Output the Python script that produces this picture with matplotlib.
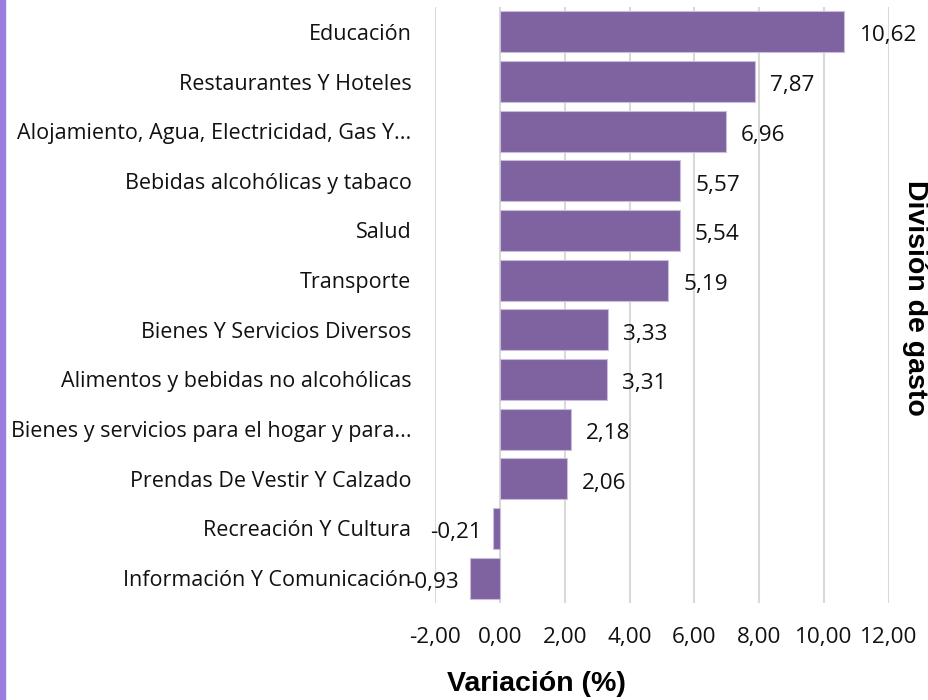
import matplotlib.pyplot as plt
from matplotlib.ticker import FuncFormatter

# datos
categorias = [
    "Educación",
    "Restaurantes Y Hoteles",
    "Alojamiento, Agua, Electricidad, Gas Y...",
    "Bebidas alcohólicas y tabaco",
    "Salud",
    "Transporte",
    "Bienes Y Servicios Diversos",
    "Alimentos y bebidas no alcohólicas",
    "Bienes y servicios para el hogar y para...",
    "Prendas De Vestir Y Calzado",
    "Recreación Y Cultura",
    "Información Y Comunicación",
]
variacion = [10.62, 7.87, 6.96, 5.57, 5.54, 5.19, 3.33, 3.31, 2.18, 2.06, -0.21, -0.93]
xticks = [-2, 0, 2, 4, 6, 8, 10, 12]

plt.rcParams['font.family'] = ['Open Sans', 'DejaVu Sans']
fs = 16.2

fig = plt.figure(figsize=(9.29, 7), dpi=100)
ax = fig.add_axes([435 / 929, 1 - 603 / 700, (889 - 435) / 929, (603 - 7) / 700])

pos = list(range(len(categorias)))
ax.barh(pos, variacion, height=0.83, color='#7f63a0', edgecolor='#c9bddc', linewidth=0.8, zorder=2)

for y, v in zip(pos, variacion):
    txt = f"{v:.2f}".replace('.', ',')
    if v >= 0:
        ax.annotate(txt, (v, y), xytext=(11, -3), textcoords='offset points',
                    ha='left', va='center', fontsize=fs, color='#111111')
    else:
        ax.annotate(txt, (v, y), xytext=(-8, -3), textcoords='offset points',
                    ha='right', va='center', fontsize=fs, color='#111111')

ax.set_ylim(len(categorias) - 0.5, -0.5)
ax.set_xlim(-2, 12)
ax.set_yticks(pos)
ax.set_yticklabels(categorias, fontsize=15.5, color='#111111')
ax.set_xticks(xticks)
ax.xaxis.set_major_formatter(FuncFormatter(lambda x, p: f"{x:.2f}".replace('.', ',')))
ax.tick_params(axis='x', labelsize=fs, length=0, pad=17, labelcolor='#111111')
ax.tick_params(axis='y', length=0, pad=17)
ax.grid(axis='x', color='#d9d9d9', linewidth=1.5, zorder=0)
for s in ax.spines.values():
    s.set_visible(False)

fig.text(536 / 929, 1 - 684 / 700, "Variación (%)", ha='center', va='center',
         fontsize=20.5, fontweight='bold', family='Liberation Sans')
fig.text(915 / 929, 1 - 298 / 700, "División de gasto", rotation=270, ha='center', va='center',
         fontsize=20.5, fontweight='bold', family='Liberation Sans')

# franja morada a la izquierda
fig.patches.append(plt.Rectangle((0, 0), 5 / 929, 1, transform=fig.transFigure,
                                 color='#9b7ce0', zorder=0))

fig.savefig('out.png', dpi=100)
